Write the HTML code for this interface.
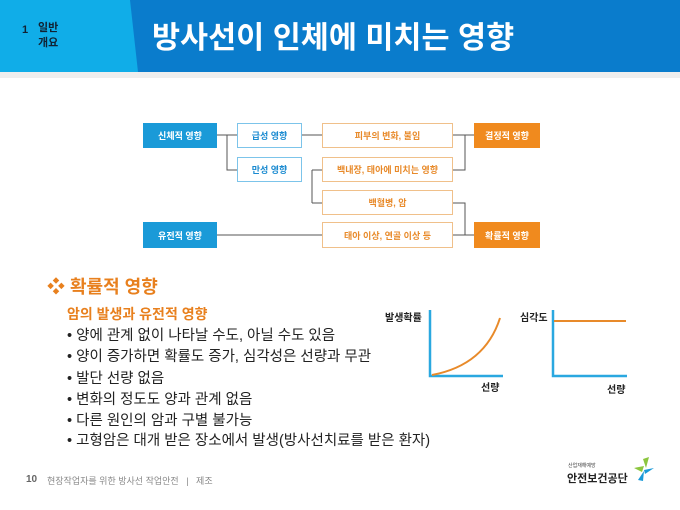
<!DOCTYPE html>
<html><head><meta charset="utf-8"><style>
body{margin:0;width:680px;height:510px;background:#fff;position:relative;overflow:hidden;font-family:"Liberation Sans","Noto Sans CJK KR",sans-serif}
.a{position:absolute}
.bx{position:absolute;display:flex;align-items:center;justify-content:center;font-size:9px;font-weight:bold;box-sizing:border-box}
.bl{background:#1a9ad8;color:#fff}
.lb{border:1px solid #7cc4ea;color:#1a8ad0;background:#fff}
.ob{border:1px solid #f0c08a;color:#e88a2a;background:#fff}
.of{background:#f08a1e;color:#fff}
.t{position:absolute;font-size:14.5px;color:#222;white-space:nowrap}
</style></head><body>
<svg class="a" style="left:0;top:0" width="680" height="80">
<rect x="0" y="0" width="680" height="72" fill="#0a7ccc"/>
<polygon points="0,0 130,0 138,72 0,72" fill="#10ade8"/>
<rect x="0" y="72" width="680" height="6" fill="#eeeeee"/>
</svg>
<div class="a" style="left:22px;top:24px;font-size:11px;font-weight:bold;color:#123">1</div>
<div class="a" style="left:38px;top:21px;font-size:11px;font-weight:bold;color:#123;line-height:15px">일반<br>개요</div>
<div class="a" style="left:152px;top:13px;font-size:30.5px;font-weight:bold;color:#fff">방사선이 인체에 미치는 영향</div>

<svg class="a" style="left:0;top:0" width="680" height="510" fill="none" stroke="#555" stroke-width="1">
<path d="M217 135H237M227 135V170H237M302 135H322M453 135H474M465 135V170H453M312 170V203M312 170H322M312 203H322M453 203H465V235H474M453 235H474M217 235H322"/>
<path d="M430 310V376H503M553 310V376H627" stroke="#2aa8e0" stroke-width="2.5"/>
<path d="M432 375Q485 365 500 318" stroke="#e88a2a" stroke-width="2"/>
<path d="M554 321H626" stroke="#e88a2a" stroke-width="2"/>
</svg>
<div class="bx bl" style="left:143px;top:123px;width:74px;height:25px">신체적 영향</div>
<div class="bx bl" style="left:143px;top:222px;width:74px;height:26px">유전적 영향</div>
<div class="bx lb" style="left:237px;top:123px;width:65px;height:25px">급성 영향</div>
<div class="bx lb" style="left:237px;top:157px;width:65px;height:25px">만성 영향</div>
<div class="bx ob" style="left:322px;top:123px;width:131px;height:25px">피부의 변화, 불임</div>
<div class="bx ob" style="left:322px;top:157px;width:131px;height:25px">백내장, 태아에 미치는 영향</div>
<div class="bx ob" style="left:322px;top:190px;width:131px;height:25px">백혈병, 암</div>
<div class="bx ob" style="left:322px;top:222px;width:131px;height:26px">태아 이상, 연골 이상 등</div>
<div class="bx of" style="left:474px;top:123px;width:66px;height:25px">결정적 영향</div>
<div class="bx of" style="left:474px;top:222px;width:66px;height:26px">확률적 영향</div>

<div class="a" style="left:385px;top:309px;font-size:10px;font-weight:bold;color:#222">발생확률</div>
<div class="a" style="left:481px;top:379px;font-size:10px;font-weight:bold;color:#222">선량</div>
<div class="a" style="left:520px;top:309px;font-size:10px;font-weight:bold;color:#222">심각도</div>
<div class="a" style="left:607px;top:381px;font-size:10px;font-weight:bold;color:#222">선량</div>

<div class="a" style="left:47px;top:273px;font-size:18px;font-weight:bold;color:#e8801e">❖ 확률적 영향</div>
<div class="a" style="left:67px;top:304px;font-size:14px;font-weight:bold;color:#e8801e">암의 발생과 유전적 영향</div>
<div class="t" style="left:67px;top:324px">• 양에 관계 없이 나타날 수도, 아닐 수도 있음</div>
<div class="t" style="left:67px;top:345px">• 양이 증가하면 확률도 증가, 심각성은 선량과 무관</div>
<div class="t" style="left:67px;top:367px">• 발단 선량 없음</div>
<div class="t" style="left:67px;top:388px">• 변화의 정도도 양과 관계 없음</div>
<div class="t" style="left:67px;top:409px">• 다른 원인의 암과 구별 불가능</div>
<div class="t" style="left:67px;top:429px">• 고형암은 대개 받은 장소에서 발생(방사선치료를 받은 환자)</div>

<div class="a" style="left:26px;top:474px;font-size:10px;font-weight:bold;color:#666">10</div>
<div class="a" style="left:47px;top:474px;font-size:9px;color:#888">현장작업자를 위한 방사선 작업안전 &nbsp;&nbsp;| &nbsp;&nbsp;제조</div>
<div class="a" style="left:568px;top:462px;font-size:5px;color:#444">산업재해예방</div>
<div class="a" style="left:567px;top:470px;font-size:11px;font-weight:bold;color:#222">안전보건공단</div>
<svg class="a" style="left:630px;top:456px" width="28" height="26">
<path d="M13 3L19 1L16 12Z" fill="#8cc63f"/><path d="M4 12L14 10L12 16Z" fill="#8cc63f"/>
<path d="M14 14L24 12L15 18Z" fill="#1a9ad8"/><path d="M8 24L14 15L13 25Z" fill="#1a9ad8"/>
</svg>
</body></html>
